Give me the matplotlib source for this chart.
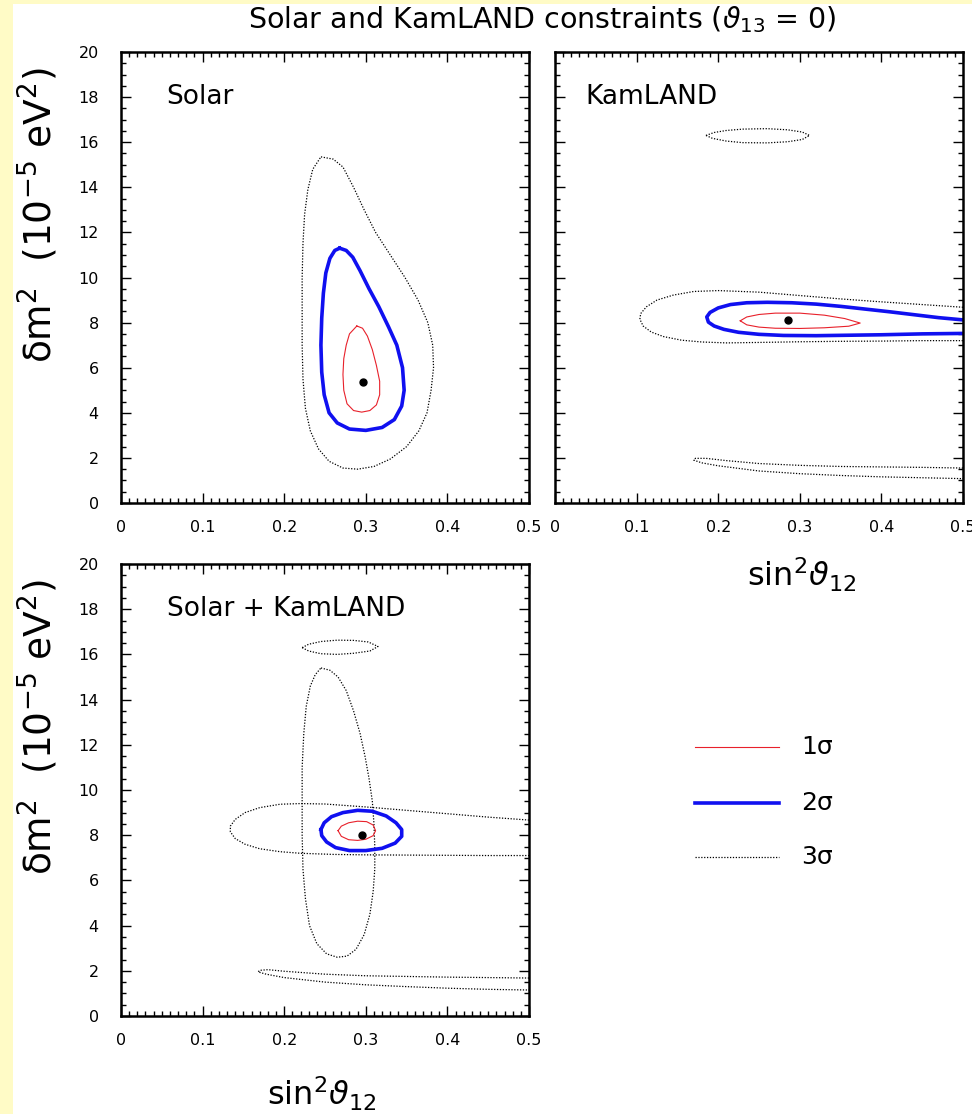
import matplotlib
matplotlib.use("Agg")
import matplotlib.pyplot as plt
from matplotlib.lines import Line2D
from matplotlib.patches import Rectangle

# ---------------- data ----------------
x_ticks = [0, 0.1, 0.2, 0.3, 0.4, 0.5]
x_tick_labels = ["0", "0.1", "0.2", "0.3", "0.4", "0.5"]
y_ticks = [0, 2, 4, 6, 8, 10, 12, 14, 16, 18, 20]
y_tick_labels = ["0", "2", "4", "6", "8", "10", "12", "14", "16", "18", "20"]

panel_titles = ["Solar", "KamLAND", "Solar + KamLAND"]
legend_labels = ["1σ", "2σ", "3σ"]

# Solar only
solar_1s = [(0.289, 7.85), (0.296, 7.75), (0.302, 7.4), (0.308, 6.8), (0.313, 6.1),
            (0.317, 5.4), (0.317, 4.8), (0.313, 4.35), (0.305, 4.1), (0.295, 4.03),
            (0.285, 4.1), (0.277, 4.4), (0.273, 5.0), (0.272, 5.7), (0.273, 6.4),
            (0.276, 7.0), (0.28, 7.5), (0.289, 7.85)]
solar_2s = [(0.268, 11.3), (0.276, 11.2), (0.284, 10.9), (0.293, 10.3), (0.304, 9.5),
            (0.316, 8.7), (0.328, 7.8), (0.338, 7.0), (0.345, 6.0), (0.347, 5.0),
            (0.344, 4.3), (0.335, 3.7), (0.32, 3.35), (0.30, 3.22), (0.28, 3.28),
            (0.265, 3.55), (0.255, 4.0), (0.249, 4.8), (0.246, 5.8), (0.245, 7.0),
            (0.246, 8.2), (0.248, 9.3), (0.251, 10.2), (0.256, 10.85), (0.262, 11.2),
            (0.268, 11.3)]
solar_3s = [(0.245, 15.35), (0.26, 15.25), (0.272, 14.9), (0.285, 14.0), (0.298, 13.0),
            (0.312, 12.0), (0.33, 11.0), (0.348, 10.0), (0.364, 9.0), (0.376, 8.0),
            (0.382, 7.0), (0.383, 6.0), (0.38, 5.0), (0.375, 4.0), (0.365, 3.2),
            (0.35, 2.5), (0.33, 1.95), (0.31, 1.62), (0.29, 1.5), (0.272, 1.55),
            (0.255, 1.85), (0.242, 2.4), (0.232, 3.2), (0.226, 4.2), (0.223, 5.5),
            (0.222, 7.0), (0.222, 8.5), (0.222, 10.0), (0.223, 11.5), (0.225, 12.8),
            (0.229, 13.9), (0.235, 14.8), (0.245, 15.35)]
solar_best = (0.296, 5.35)

# KamLAND only
kam_1s = [(0.227, 8.08), (0.235, 8.25), (0.25, 8.36), (0.27, 8.42), (0.30, 8.42),
          (0.33, 8.33), (0.355, 8.18), (0.374, 7.98), (0.36, 7.84), (0.33, 7.77),
          (0.30, 7.74), (0.27, 7.75), (0.25, 7.8), (0.235, 7.9), (0.227, 8.08)]
kam_2s = [(0.5, 8.12), (0.47, 8.22), (0.44, 8.35), (0.41, 8.48), (0.38, 8.6),
          (0.35, 8.72), (0.32, 8.82), (0.29, 8.88), (0.26, 8.9), (0.235, 8.88),
          (0.215, 8.8), (0.2, 8.65), (0.19, 8.45), (0.186, 8.25), (0.188, 8.02),
          (0.195, 7.85), (0.207, 7.7), (0.225, 7.57), (0.25, 7.48), (0.28, 7.43),
          (0.32, 7.42), (0.36, 7.44), (0.40, 7.46), (0.45, 7.5), (0.5, 7.52)]
kam_3s_main = [(0.5, 8.68), (0.45, 8.8), (0.40, 8.92), (0.35, 9.05), (0.30, 9.2),
               (0.25, 9.35), (0.20, 9.42), (0.17, 9.38), (0.145, 9.22), (0.125, 9.0),
               (0.112, 8.7), (0.105, 8.4), (0.104, 8.15), (0.108, 7.85), (0.118, 7.58),
               (0.133, 7.38), (0.155, 7.22), (0.18, 7.14), (0.21, 7.1), (0.25, 7.12),
               (0.30, 7.15), (0.35, 7.17), (0.40, 7.18), (0.45, 7.2), (0.5, 7.2)]
kam_3s_top = [(0.185, 16.3), (0.195, 16.43), (0.21, 16.52), (0.23, 16.58), (0.26, 16.6),
              (0.285, 16.55), (0.303, 16.45), (0.312, 16.3), (0.303, 16.12), (0.285, 16.02),
              (0.26, 15.97), (0.23, 15.98), (0.21, 16.05), (0.193, 16.17), (0.185, 16.3)]
kam_3s_low = [(0.5, 1.55), (0.45, 1.58), (0.40, 1.6), (0.35, 1.62), (0.30, 1.67),
              (0.25, 1.75), (0.21, 1.88), (0.185, 1.98), (0.172, 1.98), (0.17, 1.9),
              (0.18, 1.78), (0.20, 1.65), (0.25, 1.42), (0.30, 1.3), (0.35, 1.22),
              (0.40, 1.16), (0.45, 1.12), (0.5, 1.08)]
kam_best = (0.285, 8.1)

# Solar + KamLAND
comb_1s = [(0.266, 8.2), (0.27, 8.4), (0.279, 8.55), (0.29, 8.62), (0.301, 8.6),
           (0.309, 8.45), (0.312, 8.2), (0.309, 7.98), (0.3, 7.82), (0.29, 7.77),
           (0.279, 7.8), (0.27, 7.95), (0.266, 8.2)]
comb_2s = [(0.245, 8.25), (0.249, 8.55), (0.258, 8.82), (0.272, 9.0), (0.29, 9.1),
           (0.308, 9.06), (0.325, 8.85), (0.337, 8.55), (0.344, 8.25), (0.344, 7.95),
           (0.336, 7.65), (0.32, 7.42), (0.30, 7.32), (0.28, 7.32), (0.263, 7.45),
           (0.252, 7.7), (0.246, 7.98), (0.245, 8.25)]
comb_3s_top = [(0.222, 16.3), (0.23, 16.45), (0.245, 16.57), (0.265, 16.63), (0.285, 16.62),
               (0.303, 16.55), (0.315, 16.35), (0.305, 16.15), (0.285, 16.05), (0.265, 16.0),
               (0.245, 16.03), (0.23, 16.15), (0.222, 16.3)]
comb_3s_vert = [(0.245, 15.4), (0.256, 15.3), (0.266, 15.0), (0.276, 14.4), (0.285, 13.5),
                (0.293, 12.5), (0.299, 11.5), (0.304, 10.5), (0.308, 9.5), (0.31, 8.5),
                (0.311, 7.5), (0.311, 6.5), (0.309, 5.5), (0.305, 4.5), (0.298, 3.6),
                (0.288, 2.95), (0.277, 2.65), (0.265, 2.6), (0.252, 2.75), (0.24, 3.2),
                (0.231, 4.0), (0.226, 5.2), (0.223, 6.5), (0.222, 8.0), (0.222, 9.5),
                (0.222, 11.0), (0.224, 12.5), (0.227, 13.7), (0.232, 14.6), (0.238, 15.1),
                (0.245, 15.4)]
comb_3s_horiz = [(0.5, 8.67), (0.45, 8.8), (0.40, 8.95), (0.35, 9.1), (0.30, 9.25),
                 (0.25, 9.38), (0.22, 9.4), (0.195, 9.37), (0.17, 9.22), (0.152, 9.0),
                 (0.14, 8.7), (0.134, 8.4), (0.134, 8.15), (0.14, 7.85), (0.152, 7.6),
                 (0.17, 7.4), (0.195, 7.27), (0.22, 7.2), (0.26, 7.15), (0.30, 7.13),
                 (0.35, 7.12), (0.40, 7.11), (0.45, 7.1), (0.5, 7.1)]
comb_3s_low = [(0.5, 1.68), (0.45, 1.7), (0.40, 1.72), (0.35, 1.75), (0.30, 1.78),
               (0.25, 1.85), (0.20, 1.98), (0.18, 2.05), (0.17, 2.02), (0.168, 1.95),
               (0.178, 1.85), (0.20, 1.7), (0.25, 1.5), (0.30, 1.38), (0.35, 1.3),
               (0.40, 1.23), (0.45, 1.18), (0.5, 1.15)]
comb_best = (0.295, 8.0)

# ---------------- styles ----------------
RED = "#e8212b"
BLUE = "#1010f0"
st1 = dict(color=RED, lw=0.8, solid_joinstyle="round")
st2 = dict(color=BLUE, lw=2.6, solid_joinstyle="round")
st3 = dict(color="black", lw=0.9, linestyle=(0, (1, 1.3)))

W, H = 972, 1114
fig = plt.figure(figsize=(W / 100, H / 100), dpi=100)
fig.patch.set_facecolor("#fffbc6")
fig.patches.append(Rectangle((13 / W, 0), 1 - 13 / W, 1 - 4 / H, transform=fig.transFigure,
                             facecolor="white", edgecolor="none", zorder=-10))

def px_axes(x0, y0, x1, y1):
    return fig.add_axes([x0 / W, 1 - y1 / H, (x1 - x0) / W, (y1 - y0) / H])

def style(ax, show_y=True):
    ax.set_xlim(0, 0.5)
    ax.set_ylim(0, 20)
    ax.set_xticks(x_ticks)
    ax.set_xticklabels(x_tick_labels)
    ax.set_yticks(y_ticks)
    if show_y:
        ax.set_yticklabels(y_tick_labels)
    else:
        ax.set_yticklabels([])
    ax.set_xticks([i * 0.01 for i in range(51)], minor=True)
    ax.set_yticks([i * 0.5 for i in range(41)], minor=True)
    ax.tick_params(which="both", direction="in", top=True, right=True, width=1.0,
                   labelsize=11.5, colors="black")
    ax.tick_params(which="major", length=7)
    ax.tick_params(which="minor", length=3.5)
    ax.tick_params(axis="y", pad=16)
    ax.tick_params(axis="x", pad=12)
    for s in ax.spines.values():
        s.set_linewidth(1.8)
    ax.set_facecolor("white")

def line(ax, pts, st):
    xs = [p[0] for p in pts]
    ys = [p[1] for p in pts]
    ax.plot(xs, ys, **st)

ax1 = px_axes(121, 52, 529, 503)
ax2 = px_axes(555, 52, 963, 503)
ax3 = px_axes(121, 564, 529, 1016)
for ax, sy in ((ax1, True), (ax2, False), (ax3, True)):
    style(ax, sy)

line(ax1, solar_3s, st3)
line(ax1, solar_2s, st2)
line(ax1, solar_1s, st1)
ax1.plot([solar_best[0]], [solar_best[1]], "o", color="black", ms=5)

for c in (kam_3s_main, kam_3s_top, kam_3s_low):
    line(ax2, c, st3)
line(ax2, kam_2s, st2)
line(ax2, kam_1s, st1)
ax2.plot([kam_best[0]], [kam_best[1]], "o", color="black", ms=5)

for c in (comb_3s_top, comb_3s_vert, comb_3s_horiz, comb_3s_low):
    line(ax3, c, st3)
line(ax3, comb_2s, st2)
line(ax3, comb_1s, st1)
ax3.plot([comb_best[0]], [comb_best[1]], "o", color="black", ms=5)

ax1.text(0.056, 18.0, panel_titles[0], fontsize=19, va="center")
ax2.text(0.037, 18.0, panel_titles[1], fontsize=19, va="center")
ax3.text(0.056, 18.0, panel_titles[2], fontsize=19, va="center")

fig.text(542 / W, 1 - 20 / H, r"Solar and KamLAND constraints ($\vartheta_{13}$ = 0)",
         fontsize=20.5, ha="center", va="center")
ylab = r"δm$^2$  (10$^{-5}$ eV$^2$)"
fig.text(38 / W, 1 - 215 / H, ylab, fontsize=27, rotation=90, ha="center", va="center")
fig.text(38 / W, 1 - 727 / H, ylab, fontsize=27, rotation=90, ha="center", va="center")
xlab = r"sin$^2\vartheta_{12}$"
fig.text(802 / W, 1 - 575 / H, xlab, fontsize=23, ha="center", va="center")
fig.text(322 / W, 1 - 1094 / H, xlab, fontsize=23, ha="center", va="center")

# legend
lax = fig.add_axes([0, 0, 1, 1], facecolor="none")
lax.set_xlim(0, W)
lax.set_ylim(H, 0)
lax.axis("off")
for yy, st, lab in ((747, st1, legend_labels[0]), (803, st2, legend_labels[1]),
                    (857, st3, legend_labels[2])):
    lax.add_line(Line2D([695, 779], [yy, yy], **st))
    lax.text(801, yy, lab, fontsize=18, va="center", ha="left")

fig.savefig("out.png", dpi=100)
